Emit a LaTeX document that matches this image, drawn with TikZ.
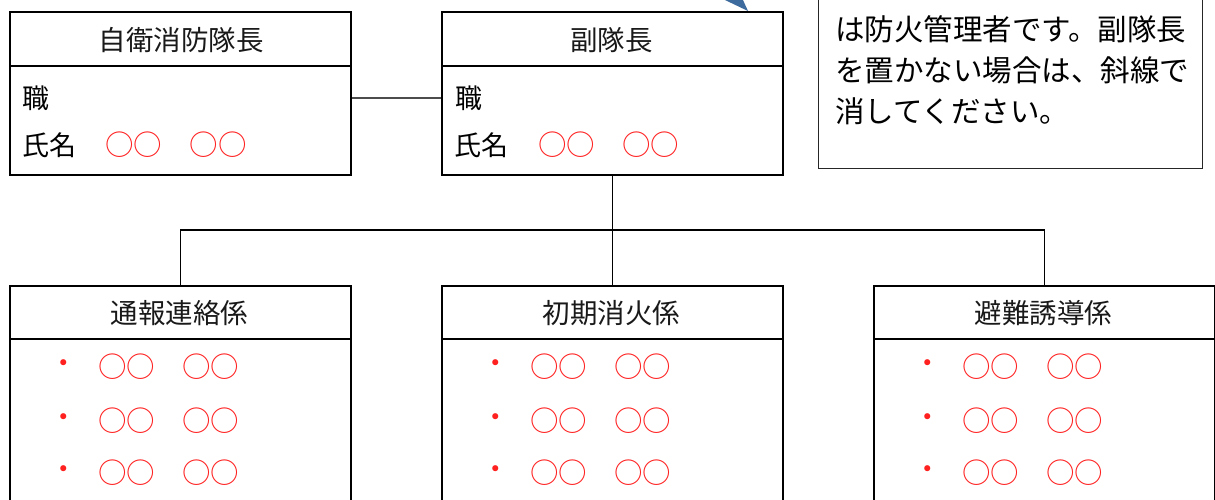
\documentclass[tikz,border=0pt]{standalone}
\usepackage{fontspec}
\newfontfamily\jp{Noto Sans CJK JP}
\definecolor{callblue}{HTML}{3D6B9E}
\definecolor{mark}{HTML}{FF2020}
\begin{document}
\begin{tikzpicture}[x=1pt,y=-1pt,
  box/.style={draw=black,line width=2pt,rectangle,anchor=north west,inner sep=0pt},
  topbox/.style={box,minimum width=341pt,minimum height=163pt},
  lowbox/.style={box,minimum width=341pt,minimum height=240pt},
  head/.style={font=\jp\fontsize{27.5}{27.5}\selectfont,text=black!90,inner sep=0pt},
  txt/.style={font=\jp\fontsize{27}{27}\selectfont,text=black,inner sep=0pt},
  red/.style={font=\jp\fontsize{28.5}{28.5}\selectfont\color{mark},inner sep=0pt},
  link/.style={line width=1.6pt,draw=black},
  side/.style={line width=1.4pt,draw=black!70},
  note/.style={font=\jp\fontsize{29.5}{29.5}\selectfont,text=black,inner sep=0pt,anchor=west}]
\useasboundingbox (0,0) rectangle (1215,499);
\clip (0,0) rectangle (1215,499);
\fill[white] (0,0) rectangle (1215,499);
% top boxes
\node[topbox] (chief) at (9,11) {};
\node[topbox] (vice) at (441,11) {};
\foreach \b in {chief,vice}{
  \draw[line width=2pt] ([yshift=-55pt]\b.north west) -- ([yshift=-55pt]\b.north east);
}
\node[head] (chiefh) at (181,40) {自衛消防隊長};
\node[head] (viceh) at (611.5,40) {副隊長};
\node[txt] (chiefj) at (36,98) {職};
\node[txt] (chiefn) at (49,145) {氏名};
\node[red] (chiefc1) at (133.5,145) {○○};
\node[red] (chiefc2) at (218,145) {○○};
\node[txt] (vicej) at (468.5,98) {職};
\node[txt] (vicen) at (481.5,145) {氏名};
\node[red] (vicec1) at (566.5,145) {○○};
\node[red] (vicec2) at (650.5,145) {○○};
\draw[side] ([yshift=-87pt]chief.north east) -- ([yshift=-87pt]vice.north west);
% lower boxes
\node[lowbox] (tsuho) at (9,285) {};
\node[lowbox] (shoki) at (441,285) {};
\node[lowbox] (hinan) at (873,285) {};
\foreach \b in {tsuho,shoki,hinan}{
  \draw[line width=2pt] ([yshift=-54pt]\b.north west) -- ([yshift=-54pt]\b.north east);
}
\node[head] (tsuhoh) at (179.5,313) {通報連絡係};
\node[head] (shokih) at (611.5,313) {初期消火係};
\node[head] (hinanh) at (1043.5,313) {避難誘導係};
\foreach \b/\x in {tsuho/9,shoki/441,hinan/873}{
  \foreach \r/\y in {1/367,2/421,3/473}{
    \node[red] (\b dot\r) at (\x+55,\y) {・};
    \node[red] (\b a\r) at (\x+117.5,\y) {○○};
    \node[red] (\b b\r) at (\x+201.5,\y) {○○};
  }
}
% tree connectors
\coordinate (bus) at (611.5,230);
\draw[link] (vice.south) -- (shoki.north);
\draw[link] (tsuho.north) -- (tsuho.north |- bus) -- (hinan.north |- bus) -- (hinan.north);
% callout
\node[draw=black!85,line width=1.3pt,rectangle,anchor=north west,minimum width=384pt,minimum height=180pt,inner sep=0pt] (callout) at (818,-12) {};
\node[note] (n1) at (835,29) {は防火管理者です。副隊長};
\node[note] (n2) at (835,70) {を置かない場合は、斜線で};
\node[note] (n3) at (835,111) {消してください。};
\fill[callblue] (714.5,-5) -- (740.7,-5) -- (748,11) -- cycle;
\end{tikzpicture}
\end{document}
